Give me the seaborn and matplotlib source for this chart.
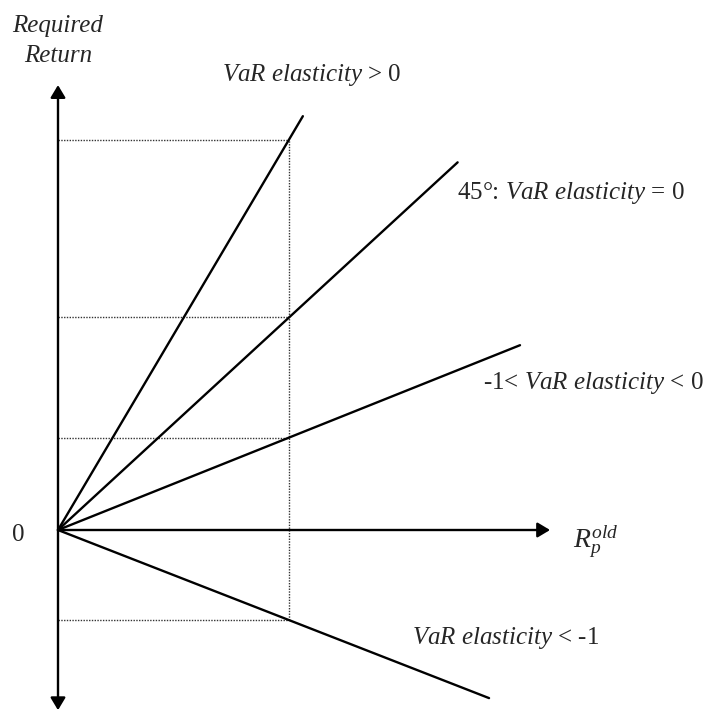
import pandas as pd
import matplotlib
matplotlib.use("Agg")
import matplotlib.pyplot as plt
import seaborn as sns

# slopes of the four required-return lines (pixel unit: dotted guide at x = 1)
line_names = ["VaR elasticity > 0", "45deg", "-1 < VaR elasticity < 0", "VaR elasticity < -1"]
line_slopes = [1.69, 0.92, 0.40, -0.39]
line_x_end = [1.06, 1.73, 2.00, 1.866]
guide_x = 1.0

label_texts = [r"$\mathit{VaR\ elasticity}$ > 0",
               r"45°: $\mathit{VaR\ elasticity}$ = 0",
               r"-1< $\mathit{VaR\ elasticity}$ < 0",
               r"$\mathit{VaR\ elasticity}$ < -1"]
label_x = [0.71, 1.727, 1.84, 1.532]
label_y = [1.97, 1.459, 0.636, -0.468]

sns.set_theme(style="white")
plt.rcParams["font.family"] = ["Liberation Serif", "DejaVu Serif"]
plt.rcParams["mathtext.fontset"] = "custom"
plt.rcParams["mathtext.rm"] = "Liberation Serif"
plt.rcParams["mathtext.it"] = "Liberation Serif:italic"

rows = []
for name, s, xe in zip(line_names, line_slopes, line_x_end):
    rows.append({"line": name, "x": 0.0, "y": 0.0})
    rows.append({"line": name, "x": xe, "y": s * xe})
df = pd.DataFrame(rows)

fig = plt.figure(figsize=(7.13, 7.12), dpi=100)
ax = fig.add_axes([0, 0, 1, 1])
ax.set_xlim(-58 / 231, (713 - 58) / 231)
ax.set_ylim(-(712 - 530) / 231, 530 / 231)
ax.axis("off")

# dotted guides
ax.hlines(line_slopes, 0, guide_x, colors="#333333", linestyles=(0, (1, 1)), lw=1.0)
ax.vlines(guide_x, min(line_slopes), max(line_slopes), colors="#333333", linestyles=(0, (1, 1)), lw=1.0)

sns.lineplot(data=df, x="x", y="y", hue="line", palette=["black"] * 4,
             estimator=None, sort=False, lw=1.7, legend=False, ax=ax)

# axes with arrows
arrow = dict(arrowstyle="-|>,head_length=0.5,head_width=0.3", color="black", lw=1.7,
             mutation_scale=15, shrinkA=0, shrinkB=0)
ax.annotate("", xy=(2.13, 0), xytext=(0, 0), arrowprops=arrow)
ax.annotate("", xy=(0, 1.926), xytext=(0, 0), arrowprops=arrow)
ax.annotate("", xy=(0, -0.78), xytext=(0, 0), arrowprops=arrow)

fs = 18
for t, x, y in zip(label_texts, label_x, label_y):
    ax.text(x, y, t, fontsize=fs, ha="left", va="center")

ax.text(0.0, 2.18, "Required", fontsize=fs, style="italic", ha="center", va="center")
ax.text(0.0, 2.05, "Return", fontsize=fs, style="italic", ha="center", va="center")
ax.text(-0.173, -0.022, "0", fontsize=fs, ha="center", va="center")
ax.text(2.23, -0.05, r"$R_p^{old}$", fontsize=20, ha="left", va="center")

fig.savefig("out.png", dpi=100)
